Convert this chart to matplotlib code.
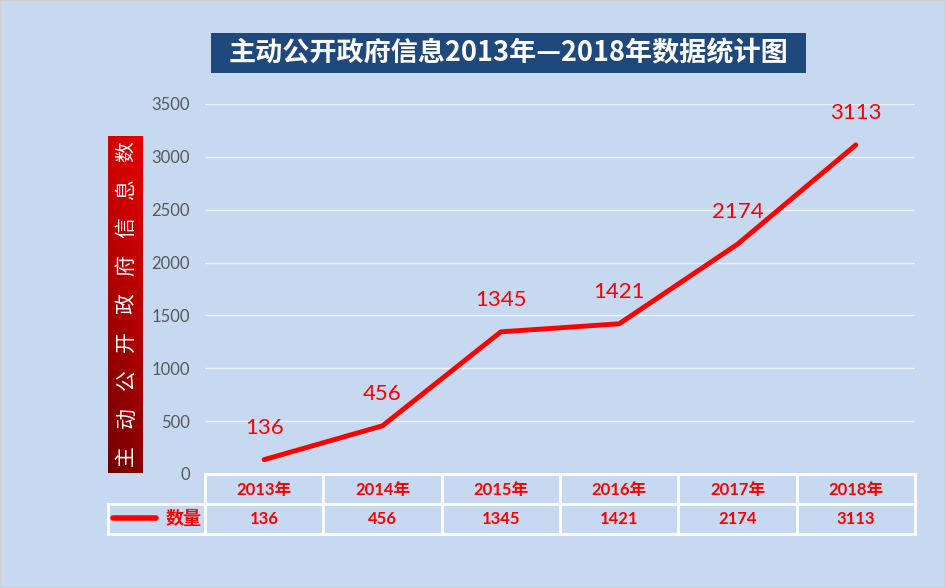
import numpy as np
import matplotlib
matplotlib.use("Agg")
import matplotlib.pyplot as plt
from matplotlib.patches import Rectangle
from matplotlib.colors import LinearSegmentedColormap

plt.rcParams['font.family'] = ['Lato', 'Noto Sans CJK SC', 'DejaVu Sans']

# ---- data ----
years = ["2013年", "2014年", "2015年", "2016年", "2017年", "2018年"]
values = [136, 456, 1345, 1421, 2174, 3113]
series_name = "数量"
title = "主动公开政府信息2013年—2018年数据统计图"
ylabel = "主动公开政府信息数"
yticks = [0, 500, 1000, 1500, 2000, 2500, 3000, 3500]

W, H = 946, 588
BG = "#C6D9F0"
RED = "#FF0000"

def box(x0, y0, x1, y1):
    return [x0 / W, 1 - y1 / H, (x1 - x0) / W, (y1 - y0) / H]

fig = plt.figure(figsize=(W / 100, H / 100), dpi=100, facecolor=BG)
fig.patches.append(Rectangle((0, 0), 1, 1, transform=fig.transFigure,
                             fill=False, edgecolor="#D0D0D0", lw=1.5))

# ---- main plot ----
ax = fig.add_axes(box(205, 104, 915, 474))
ax.set_facecolor("none")
x = np.arange(len(values)) + 0.5
ax.set_xlim(0, len(values))
ax.set_ylim(yticks[0], yticks[-1])
ax.set_yticks(yticks)
ax.set_xticks([])
for s in ax.spines.values():
    s.set_visible(False)
ax.tick_params(axis='y', length=0, pad=11, labelsize=12, labelcolor="#595959")
ax.grid(axis='y', color="white", lw=1, alpha=0.7)
ax.set_axisbelow(True)
ax.plot(x, values, color=RED, lw=3.5, solid_capstyle='round', zorder=3)
for xi, v in zip(x, values):
    ax.annotate(f"{v}", (xi, v), xytext=(0, 23), textcoords="offset points",
                ha="center", va="center", color=RED, fontsize=16)

# ---- data table ----
tb = fig.add_axes(box(205, 474, 915, 534))
tb.set_xlim(0, len(values))
tb.set_ylim(2, 0)
tb.axis("off")
left = -(205 - 108) / 118.33
lc = dict(color="white", lw=2, clip_on=False, solid_capstyle="projecting")
tb.plot([0, len(values)], [0, 0], **lc)
tb.plot([left, len(values)], [1, 1], **lc)
tb.plot([left, len(values)], [2, 2], **lc)
for i in range(len(values) + 1):
    tb.plot([i, i], [0, 2], **lc)
tb.plot([left, left], [1, 2], **lc)
for xi, yr, v in zip(x, years, values):
    tb.text(xi, 0.52, yr, ha="center", va="center", color=RED,
            fontsize=12, fontweight="bold")
    tb.text(xi, 1.5, f"{v}", ha="center", va="center", color=RED,
            fontsize=12, fontweight="bold")
tb.plot([-(205 - 113) / 118.33, -(205 - 156) / 118.33], [1.48, 1.48],
        color=RED, lw=4, solid_capstyle="round", clip_on=False)
tb.text(-(205 - 184) / 118.33, 1.48, series_name, ha="center", va="center",
        color=RED, fontsize=13, fontweight="bold",
        family=["Noto Sans CJK SC"])

# ---- y-axis label box with gradient ----
lb = fig.add_axes(box(108, 136, 143, 473))
gx, gy = np.meshgrid(np.linspace(0, 1, 50), np.linspace(0, 1, 300))
grad = 0.8 * gy + 0.2 * gx
cmap = LinearSegmentedColormap.from_list("rg", ["#700000", "#B00000", "#E80000"])
lb.imshow(grad, cmap=cmap, origin="lower", aspect="auto", extent=[0, 1, 0, 1])
lb.set_xlim(0, 1)
lb.set_ylim(0, 1)
lb.axis("off")
for i, ch in enumerate(ylabel):
    py = 456 - i * 38.0
    lb.text(0.52, (473 - py) / (473 - 136), ch, ha="center", va="center",
            color="white", fontsize=15, rotation=90,
            family=["Noto Sans CJK SC"])

# ---- title box ----
fig.patches.append(Rectangle((211 / W, 1 - 73 / H), (806 - 211) / W, 40 / H,
                             transform=fig.transFigure, facecolor="#1F497D",
                             edgecolor="none"))
fig.text(508 / W, 1 - 53 / H, title, ha="center", va="center", color="white",
         fontsize=19.5, fontweight="bold", family=["Noto Sans CJK SC"])

fig.savefig("out.png", dpi=100, facecolor=BG)
